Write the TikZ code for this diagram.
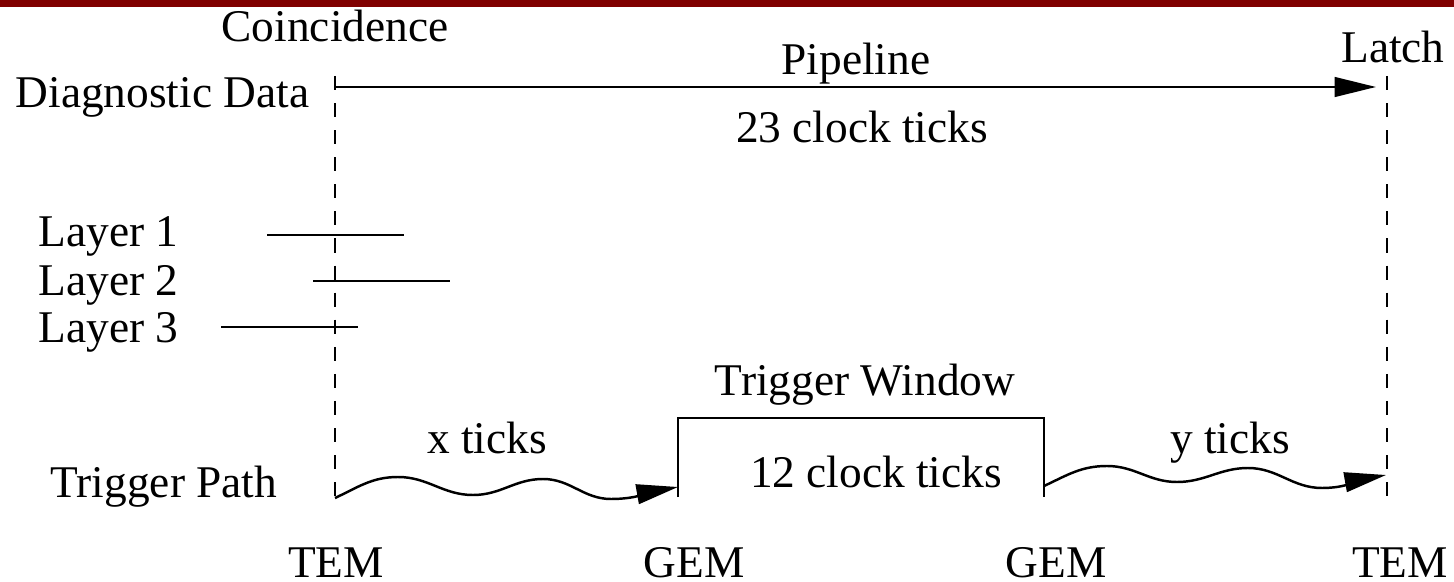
\documentclass[tikz,border=0pt]{standalone}
\usepackage{fontspec}
\setmainfont{Liberation Serif}
\usetikzlibrary{arrows.meta}
\definecolor{barred}{RGB}{128,0,0}
\tikzset{
  lbl/.style={inner sep=0pt, font=\fontsize{12.9}{15}\selectfont},
  ln/.style={line width=0.7pt, black},
  dashln/.style={ln, dash pattern=on 4pt off 3.7pt},
  tip/.style={ln, -{Triangle[length=11.8pt,width=5.6pt]}},
}
\begin{document}
\begin{tikzpicture}[x=0.01cm, y=-0.01cm]
\useasboundingbox (0,0) rectangle (1454,582);
\fill[barred] (0,0) rectangle (1454,7);

% key coordinates
\coordinate (lt) at (335,76);
\coordinate (lb) at (335,498);
\coordinate (rt) at (1387,76);
\coordinate (rb) at (1387,497);
\coordinate (pstart) at (335,87);
\coordinate (pend) at (1376,87);
\coordinate (g1b) at (678,497);
\coordinate (g1t) at (678,418);
\coordinate (g2t) at (1044,418);
\coordinate (g2b) at (1044,497);
\coordinate (g1tip) at (678,487);
\coordinate (ystart) at (1044,486);
\coordinate (ytip) at (1386,475);

% dashed time markers
\draw[dashln] (lt) -- (lb);
\draw[dashln] (rt) -- (rb);

% pipeline arrow
\draw[tip] (pstart) -- (pend);

% layers
\coordinate (l1a) at (267,235); \coordinate (l1b) at (404,235);
\coordinate (l2a) at (313,281); \coordinate (l2b) at (450,281);
\coordinate (l3a) at (221,327); \coordinate (l3b) at (358,327);
\draw[ln] (l1a) -- (l1b);
\draw[ln] (l2a) -- (l2b);
\draw[ln] (l3a) -- (l3b);

% trigger window box
\draw[ln] (g1b) -- (g1t) -- (g2t) -- (g2b);

% wavy trigger paths
\draw[tip] (lb) to[out=25,in=180] (398,477) to[out=0,in=180] (473,495)
  to[out=0,in=180] (543,479) to[out=0,in=180] (611,499) to[out=0,in=190] (g1tip);
\draw[tip] (ystart) to[out=25,in=180] (1107,466) to[out=0,in=180] (1177,482)
  to[out=0,in=180] (1248,468) to[out=0,in=180] (1322,488) to[out=0,in=190] (ytip);

% texts
\node[lbl, anchor=base] (coinc) at (335,42) {Coincidence};
\node[lbl, anchor=base] (latch) at (1393,63) {Latch};
\node[lbl, anchor=base west] (diag) at (15,108) {Diagnostic Data};
\node[lbl, anchor=base] (pipe) at (856,75) {Pipeline};
\node[lbl, anchor=base] (t23) at (862,143) {23 clock ticks};
\node[lbl, anchor=base west] (lay1) at (38,247) {Layer 1};
\node[lbl, anchor=base west] (lay2) at (38,295) {Layer 2};
\node[lbl, anchor=base west] (lay3) at (38,343) {Layer 3};
\node[lbl, anchor=base] (tw) at (865,395) {Trigger Window};
\node[lbl, anchor=base] (t12) at (876,488) {12 clock ticks};
\node[lbl, anchor=base] (xt) at (487,453) {x ticks};
\node[lbl, anchor=base] (yt) at (1230,453) {y ticks};
\node[lbl, anchor=base west] (tp) at (50,498) {Trigger Path};
\node[lbl, anchor=base] (tem1) at (336,577) {TEM};
\node[lbl, anchor=base] (gem1) at (694,577) {GEM};
\node[lbl, anchor=base] (gem2) at (1056,577) {GEM};
\node[lbl, anchor=base] (tem2) at (1400,577) {TEM};
\end{tikzpicture}
\end{document}
